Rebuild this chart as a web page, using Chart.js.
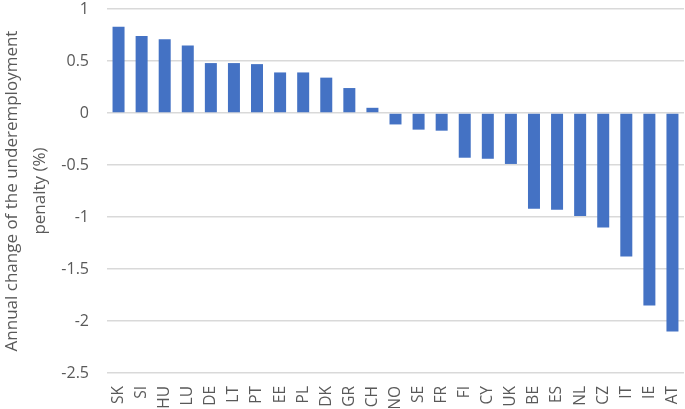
<!DOCTYPE html>
<html lang="en">
<head>
  <meta charset="UTF-8" />
  <title>Annual change of the underemployment penalty</title>
  <script src="https://cdn.jsdelivr.net/npm/chart.js"></script>
  <style>
    body { margin: 0; background: #fff; }
    .chart-container { width: 685px; height: 409px; }
  </style>
</head>
<body>
  <div class="chart-container">
    <canvas id="penaltyChart"></canvas>
  </div>

  <script>
    const countries = ['SK', 'SI', 'HU', 'LU', 'DE', 'LT', 'PT', 'EE', 'PL', 'DK', 'GR', 'CH', 'NO',
      'SE', 'FR', 'FI', 'CY', 'UK', 'BE', 'ES', 'NL', 'CZ', 'IT', 'IE', 'AT'];
    const penaltyChange = [0.83, 0.74, 0.71, 0.65, 0.48, 0.48, 0.47, 0.39, 0.39, 0.34, 0.24, 0.05, -0.11,
      -0.16, -0.17, -0.43, -0.44, -0.49, -0.92, -0.93, -0.99, -1.1, -1.38, -1.85, -2.1];
    const yTicks = [1, 0.5, 0, -0.5, -1, -1.5, -2, -2.5];

    const textColor = '#595959';
    const fontFamily = "'Open Sans', 'Noto Sans', sans-serif";

    new Chart(document.getElementById('penaltyChart'), {
      type: 'bar',
      data: {
        labels: countries,
        datasets: [{
          data: penaltyChange,
          backgroundColor: '#4472C4',
          barPercentage: 0.52,
          categoryPercentage: 1
        }]
      },
      options: {
        responsive: true,
        maintainAspectRatio: false,
        animation: false,
        layout: { padding: { top: 9, right: 1, left: 0, bottom: 1 } },
        plugins: {
          legend: { display: false },
          tooltip: { enabled: false }
        },
        scales: {
          x: {
            grid: { display: false },
            border: { display: false },
            ticks: {
              color: textColor,
              font: { family: fontFamily, size: 15.5 },
              minRotation: 90,
              maxRotation: 90,
              padding: 5,
              autoSkip: false
            },
            // keep the plot running to the right edge like the original
            afterFit: axis => { axis.height = 35; axis.paddingLeft = 0; axis.paddingRight = 0; }
          },
          y: {
            min: -2.5,
            max: 1,
            afterBuildTicks: axis => { axis.ticks = yTicks.map(v => ({ value: v })); },
            afterFit: axis => { axis.width = 107; axis.paddingTop = 0; axis.paddingBottom = 0; },
            grid: { color: '#d9d9d9', lineWidth: 1.5, drawTicks: false },
            border: { display: false },
            ticks: {
              color: textColor,
              font: { family: fontFamily, size: 16 },
              padding: 18,
              callback: value => String(value)
            },
            title: {
              display: true,
              text: ['Annual change of the underemployment', 'penalty (%)'],
              color: textColor,
              font: { family: fontFamily, size: 17, lineHeight: 1.6 },
              padding: { top: -1, bottom: 2 }
            }
          }
        }
      }
    });
  </script>
</body>
</html>
